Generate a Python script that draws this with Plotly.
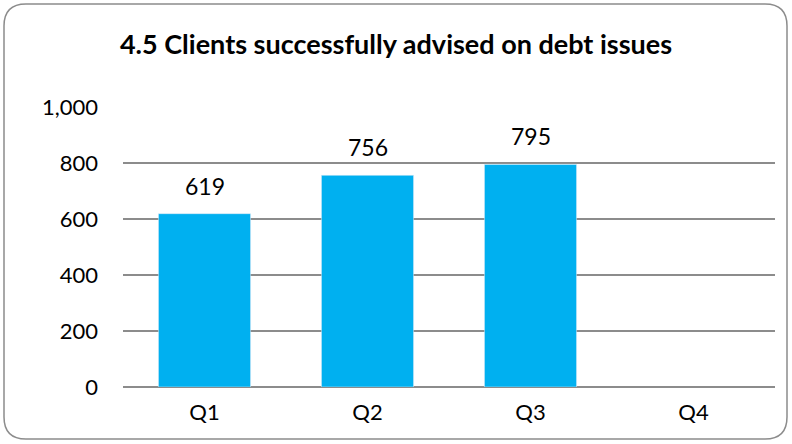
import plotly.graph_objects as go

quarters = ["Q1", "Q2", "Q3", "Q4"]
clients = [619, 756, 795, None]
tick_vals = [0, 200, 400, 600, 800, 1000]
tick_text = ["0", "200", "400", "600", "800", "1,000"]

W, H = 792, 444
ML, MR, MT, MB = 123, 17, 107, 57
PW, PH = W - ML - MR, H - MT - MB

def px(x):
    return (x - ML) / PW

def py(y):
    return (H - MB - y) / PH

# rounded outer frame, built in paper coordinates from pixel positions
x0, x1, y0, y1, r = 4, 787, 4, 439, 22
frame = (
    f"M {px(x0 + r)} {py(y0)} L {px(x1 - r)} {py(y0)} "
    f"Q {px(x1)} {py(y0)} {px(x1)} {py(y0 + r)} "
    f"L {px(x1)} {py(y1 - r)} "
    f"Q {px(x1)} {py(y1)} {px(x1 - r)} {py(y1)} "
    f"L {px(x0 + r)} {py(y1)} "
    f"Q {px(x0)} {py(y1)} {px(x0)} {py(y1 - r)} "
    f"L {px(x0)} {py(y0 + r)} "
    f"Q {px(x0)} {py(y0)} {px(x0 + r)} {py(y0)} Z"
)

font = "Lato, 'Open Sans', sans-serif"

fig = go.Figure(
    go.Bar(
        x=quarters,
        y=clients,
        marker_color="#00B0F0",
        hoverinfo="x+y",
    )
)

# value labels above each bar
for q, v in zip(quarters, clients):
    if v is None:
        continue
    fig.add_annotation(
        x=q,
        y=v,
        text=f"{v:,}",
        showarrow=False,
        yanchor="bottom",
        yshift=12,
        font=dict(size=23, color="#000000", family=font),
    )

fig.update_layout(
    width=W,
    height=H,
    margin=dict(l=ML, r=MR, t=MT, b=MB),
    paper_bgcolor="white",
    plot_bgcolor="white",
    bargap=0.435,
    showlegend=False,
    title=dict(
        text="<b>4.5 Clients successfully advised on debt issues</b>",
        x=0.5,
        xref="container",
        xanchor="center",
        y=1 - 45 / H,
        yanchor="middle",
        font=dict(size=27, color="#000000", family=font),
    ),
    shapes=[
        dict(
            type="path",
            path=frame,
            xref="paper",
            yref="paper",
            line=dict(color="#8c8c8c", width=1.5),
            fillcolor="rgba(0,0,0,0)",
            layer="below",
        )
    ],
)

fig.update_xaxes(
    showgrid=False,
    showline=False,
    ticks="",
    tickfont=dict(size=22, color="#000000", family=font),
    ticklabelstandoff=10,
)
fig.update_yaxes(
    range=[0, 1000],
    tickvals=tick_vals,
    ticktext=tick_text,
    showgrid=True,
    gridcolor="#8c8c8c",
    gridwidth=1.5,
    zeroline=True,
    zerolinecolor="#8c8c8c",
    zerolinewidth=1.5,
    showline=False,
    ticks="",
    tickfont=dict(size=22, color="#000000", family=font),
    ticklabelstandoff=24,
)

fig.write_html("out.html")
